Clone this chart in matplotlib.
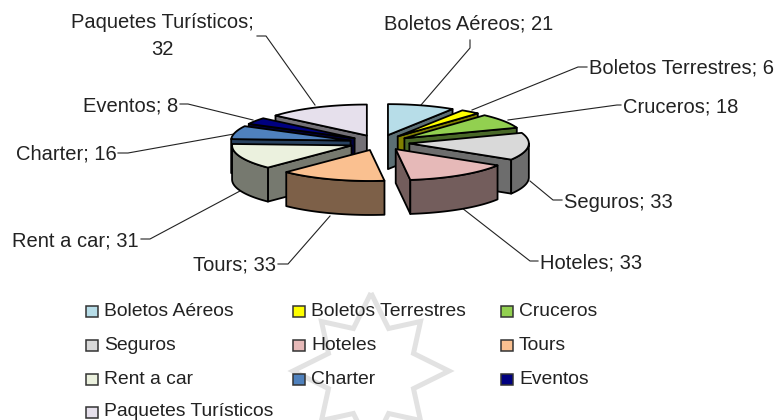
import numpy as np
import matplotlib
matplotlib.use("Agg")
import matplotlib.pyplot as plt
from matplotlib.patches import Polygon, Rectangle

categories = ["Boletos Aéreos", "Boletos Terrestres", "Cruceros", "Seguros", "Hoteles",
              "Tours", "Rent a car", "Charter", "Eventos", "Paquetes Turísticos"]
values = [21, 6, 18, 33, 33, 33, 31, 16, 8, 32]
colors = ["#B7DDE8", "#FFFF00", "#92D050", "#D9D9D9", "#E6B9B8",
          "#FAC090", "#EBF1DE", "#4F81BD", "#000080", "#E6E0EC"]

# layout, in pixels of the 779x420 picture
CX, CY, RX, RY, DEPTH = 379.5, 142.6, 119.5, 31.0, 34.0
EXPLODE = 0.251
label_anchor = [(384, 24, "left"), (589, 68, "left"), (623, 107, "left"), (564, 202, "left"),
                (540, 263, "left"), (276, 265, "right"), (139, 241, "right"), (117, 154, "right"),
                (178, 106, "right"), (162, 36, "center")]
leaders = [[(421, 105), (470, 48), (470, 40)], [(472, 110), (578, 67), (587, 67)],
           [(508, 120), (617, 105), (621, 105)], [(530, 181), (553, 200), (562, 200)],
           [(462, 208), (530, 261), (538, 261)], [(330, 216), (288, 264), (278, 264)],
           [(240, 191), (150, 239), (141, 239)], [(234, 134), (128, 153), (118, 153)],
           [(253, 120), (188, 104), (180, 104)], [(315, 105), (266, 36), (257, 36)]]
legend_col_x = [86, 293, 501]
legend_row_y = [311, 345, 379, 412]

plt.rcParams["font.family"] = ["Liberation Sans", "DejaVu Sans"]
TXT = "#222222"

fig = plt.figure(figsize=(7.79, 4.20), dpi=100)
ax = fig.add_axes([0, 0, 1, 1])
ax.set_xlim(0, 779)
ax.set_ylim(420, 0)
ax.axis("off")

# faint watermark star behind the legend
idx = np.arange(16)
t = np.radians(idx * 22.5)
r = np.where(idx % 4 == 0, 78, np.where(idx % 2 == 0, 70, 46))
star = np.c_[371 + r * np.sin(t), 371 - r * np.cos(t)]
ax.add_patch(Polygon(star, closed=True, fill=False, ec="#E2E2E2", lw=3.6, zorder=0))

def shade(c, f=0.5):
    return tuple(v * f for v in matplotlib.colors.to_rgb(c))

def pt(ox, oy, a):
    return ox + RX * np.sin(a), oy - RY * np.cos(a)

frac = np.array(values, float) / sum(values)
edges = np.concatenate([[0], np.cumsum(frac)]) * 2 * np.pi
slices = []
for i, (a0, a1) in enumerate(zip(edges[:-1], edges[1:])):
    mid = (a0 + a1) / 2
    ox = CX + EXPLODE * RX * np.sin(mid)
    oy = CY - EXPLODE * RY * np.cos(mid)
    slices.append((-np.cos(mid), i, a0, a1, ox, oy))

z = 2
for _, i, a0, a1, ox, oy in sorted(slices):
    side = shade(colors[i])
    kw = dict(closed=True, ec="black", lw=1.3, joinstyle="round")
    # radial walls turned towards the viewer
    for a, n in ((a0, a0 - np.pi / 2), (a1, a1 + np.pi / 2)):
        if np.cos(n) < -1e-6:
            x, y = pt(ox, oy, a)
            ax.add_patch(Polygon([(ox, oy), (x, y), (x, y + DEPTH), (ox, oy + DEPTH)],
                                 fc=side, zorder=z, **kw))
            z += 1
    # outer rim
    lo, hi = max(a0, np.pi / 2), min(a1, 3 * np.pi / 2)
    if hi > lo:
        aa = np.linspace(lo, hi, 40)
        xs, ys = pt(ox, oy, aa)
        rim = np.r_[np.c_[xs, ys], np.c_[xs, ys + DEPTH][::-1]]
        ax.add_patch(Polygon(rim, fc=side, zorder=z, **kw))
        z += 1
    aa = np.linspace(a0, a1, 40)
    xs, ys = pt(ox, oy, aa)
    ax.add_patch(Polygon(np.r_[[(ox, oy)], np.c_[xs, ys]], fc=colors[i], zorder=z, **kw))
    z += 1

# data labels with leader lines
for i, (name, v) in enumerate(zip(categories, values)):
    xs, ys = zip(*leaders[i])
    ax.plot(xs, ys, color="#222222", lw=0.8, zorder=1)
    sep = ";\n" if name == "Paquetes Turísticos" else "; "
    x, y, ha = label_anchor[i]
    ax.text(x, y, f"{name}{sep}{v}", ha=ha, va="center", fontsize=14.5, color=TXT,
            linespacing=1.5, multialignment="center", zorder=500)

# legend: three fixed-width columns, read row by row
for i, name in enumerate(categories):
    row, col = divmod(i, 3)
    x, y = legend_col_x[col], legend_row_y[row]
    ax.add_patch(Rectangle((x, y - 5.5), 12, 11.5, fc=colors[i], ec="#333333", lw=1.1, zorder=600))
    ax.text(x + 18, y, name, ha="left", va="center", fontsize=13.9, color=TXT, zorder=600)

fig.savefig("out.png", dpi=100)
